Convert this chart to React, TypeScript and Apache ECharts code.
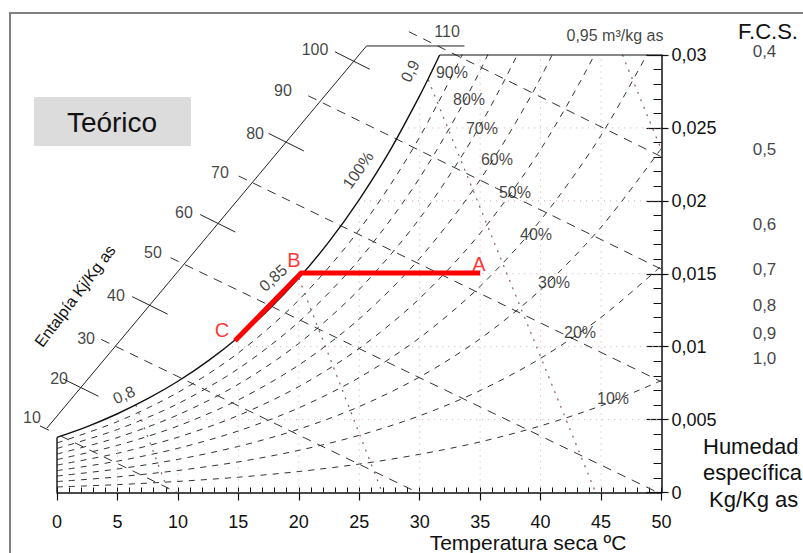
import React, { useEffect, useRef } from "react";
import * as echarts from "echarts";

const FONT = "'Liberation Sans', Arial, Helvetica, sans-serif";

// ---- axes (temperature °C, humidity in g/kg shown as kg/kg) ----
const tempMin = 0;
const tempMax = 50;
const humMax = 30;

// ---- saturation curve (100 %), g/kg ----
const satT = [0, 2.5, 5, 7.5, 10, 12.5, 15, 17.5, 20, 22.5, 25, 27.5, 30, 31, 31.65];
const satW = [3.78, 4.52, 5.4, 6.43, 7.63, 9.03, 10.65, 12.53, 14.7, 17.2, 20.09, 23.39, 27.21, 28.88, 30.0];

// ---- relative humidity curves, g/kg at rhT ----
const rhT = [0, 5, 10, 15, 20, 25, 30, 35, 40, 45, 50];
const rh90 = [3.4, 4.86, 6.86, 9.57, 13.2, 18.02, 24.38, 32.73, 43.66, 57.95, 76.6];
const rh80 = [3.02, 4.32, 6.09, 8.49, 11.7, 15.97, 21.58, 28.93, 38.51, 50.98, 67.2];
const rh70 = [2.64, 3.77, 5.32, 7.42, 10.22, 13.93, 18.8, 25.17, 33.44, 44.15, 58.02];
const rh60 = [2.26, 3.23, 4.56, 6.35, 8.74, 11.9, 16.05, 21.45, 28.44, 37.47, 49.08];
const rh50 = [1.88, 2.69, 3.79, 5.28, 7.26, 9.88, 13.31, 17.77, 23.52, 30.91, 40.37];
const rh40 = [1.5, 2.15, 3.03, 4.22, 5.8, 7.88, 10.61, 14.14, 18.68, 24.49, 31.88];
const rh30 = [1.13, 1.61, 2.27, 3.16, 4.34, 5.89, 7.92, 10.54, 13.9, 18.19, 23.61];
const rh20 = [0.75, 1.07, 1.51, 2.1, 2.89, 3.92, 5.26, 6.99, 9.2, 12.01, 15.54];
const rh10 = [0.38, 0.54, 0.76, 1.05, 1.44, 1.95, 2.62, 3.47, 4.57, 5.95, 7.68];
const rhCurves = [rh90, rh80, rh70, rh60, rh50, rh40, rh30, rh20, rh10];
const rhLabels = ["90%", "80%", "70%", "60%", "50%", "40%", "30%", "20%", "10%"];
const rhLabelT = [32.67, 34.08, 35.15, 36.39, 37.88, 39.62, 41.11, 43.26, 45.99];
const rhLabelW = [28.77, 26.98, 24.99, 22.86, 20.6, 17.72, 14.37, 10.94, 6.48];

// ---- enthalpy (kJ/kg as) ----
const enthScaleT = [-0.83, 25.6, 33.7];
const enthScaleW = [4.42, 30.62, 30.62];
const enthDashed = [10, 30, 50, 70, 90, 110];
const enthStartT = [0.3, 3.65, 9.39, 15.03, 20.79, 29.1];
const enthStartW = [3.88, 10.5, 16.1, 21.7, 27.2, 31.6];
const enthEndT = [9.94, 29.82, 49.7, 50, 50, 50];
const enthEndW = [0, 0, 0, 7.59, 15.31, 23.02];
const enthTicks = [10, 20, 40, 60, 80, 100];
const enthTickT1 = [-1.41, 0.48, 6.22, 11.84, 17.51, 22.99];
const enthTickW1 = [4.57, 7.8, 13.43, 19.06, 24.62, 30.22];
const enthTickT2 = [-0.67, 3.43, 9.15, 14.75, 20.42, 25.87];
const enthTickW2 = [4.27, 6.6, 12.23, 17.86, 23.42, 29.02];
const enthLabels = ["10", "20", "30", "40", "50", "60", "70", "80", "90", "100", "110"];
const enthLabelT = [-2.07, 0.17, 2.4, 4.88, 7.94, 10.5, 13.48, 16.38, 18.69, 21.34, 32.26];
const enthLabelW = [5.11, 7.85, 10.59, 13.54, 16.49, 19.23, 21.91, 24.65, 27.6, 30.41, 31.58];

// ---- specific volume (m3/kg as) ----
const volLevels = ["0,8", "0,85", "0,9", "0,95"];
const volStartT = [6.52, 20.0, 30.71, 46.77];
const volStartW = [6.0, 14.7, 28.3, 30.0];
const volEndT = [9.24, 26.9, 44.55, 50];
const volEndW = [0, 0, 0, 23.48];
const volLabels = ["0,8", "0,85", "0,9", "100%", "0,95 m³/kg as"];
const volLabelT = [5.54, 17.87, 29.2, 24.9, 46.15];
const volLabelW = [6.69, 14.71, 28.9, 22.11, 31.37];
const volLabelRot = [24, 42, 62, 55, 0];

// ---- dotted grid ----
const gridVT = [5, 10, 15, 20, 25, 30, 35, 40, 45];
const gridVTopW = [5.4, 7.63, 10.65, 14.7, 20.09, 27.21, 30, 30, 30];
const gridHW = [5, 10, 15, 20, 25];
const gridHStartT = [3.9, 14.0, 20.3, 24.9, 28.55];

// ---- process C -> B -> A ----
const processT = [14.72, 20.2, 35.0];
const processW = [10.4, 15.05, 15.05];
const processLabels = ["C", "B", "A"];
const processLabelT = [13.65, 19.6, 34.9];
const processLabelW = [11.14, 15.94, 15.67];

// ---- F.C.S. scale ----
const fcsValues = ["0,4", "0,5", "0,6", "0,7", "0,8", "0,9", "1,0"];
const fcsAxisT = 55.75;
const fcsTopW = 30.55;
const fcsW = [29.8, 23.07, 18.14, 15.12, 12.72, 10.73, 9.22];
const fcsSlant = [0.89, 0.69, 0.34, 0.21, 0, 0.07, 0];
const fcsTickLeftT = [55.0, 55.0, 55.2, 55.3, 55.4, 55.4, 55.4];
const fcsTickRightT = [56.66, 56.66, 56.66, 56.66, 56.6, 56.6, 56.5];
const fcsLabelT = 57.5;
const fcsLabelW = [30.21, 23.49, 18.35, 15.26, 12.79, 10.87, 9.16];

const GRID = { left: 57, right: 141.5, top: 55, bottom: 60.5 };

const lineSeries = (data: number[][], lineStyle: any, extra: any = {}) => ({
  type: "line",
  data,
  symbol: "none",
  silent: true,
  clip: false,
  lineStyle,
  ...extra,
});

const labelSeries = (items: any[], fontSize: number, color: string, extra: any = {}) => ({
  type: "scatter",
  symbolSize: 1,
  clip: false,
  silent: true,
  itemStyle: { color: "transparent" },
  z: 10,
  data: items.map((it) => ({
    value: [it[0], it[1]],
    label: { formatter: it[2], rotate: it[3] || 0 },
  })),
  label: {
    show: true,
    position: "inside",
    fontSize,
    fontFamily: FONT,
    color,
    textBorderWidth: 0,
    ...extra,
  },
});

const baseGraphics: any[] = [
  {
    type: "rect",
    shape: { x: 10, y: 13, width: 900, height: 700 },
    style: { fill: "none", stroke: "#808080", lineWidth: 2 },
    silent: true,
  },
  {
    type: "rect",
    shape: { x: 34, y: 97, width: 157, height: 49 },
    style: { fill: "#dcdcdc" },
    silent: true,
  },
  {
    type: "text",
    x: 112,
    y: 122,
    style: { text: "Teórico", font: `28px ${FONT}`, fill: "#111", align: "center", verticalAlign: "middle" },
  },
  {
    type: "text",
    x: 768,
    y: 31,
    style: { text: "F.C.S.", font: `22px ${FONT}`, fill: "#111", align: "center", verticalAlign: "middle" },
  },
  {
    type: "text",
    x: 703,
    y: 446,
    style: { text: "Humedad", font: `22px ${FONT}`, fill: "#111", align: "left", verticalAlign: "middle" },
  },
  {
    type: "text",
    x: 703,
    y: 472,
    style: { text: "específica", font: `22px ${FONT}`, fill: "#111", align: "left", verticalAlign: "middle" },
  },
  {
    type: "text",
    x: 709,
    y: 499,
    style: { text: "Kg/Kg as", font: `22px ${FONT}`, fill: "#111", align: "left", verticalAlign: "middle" },
  },
  {
    type: "text",
    x: 528,
    y: 542.5,
    style: { text: "Temperatura seca ºC", font: `21px ${FONT}`, fill: "#111", align: "center", verticalAlign: "middle" },
  },
  {
    type: "text",
    x: 75,
    y: 296,
    rotation: (53 * Math.PI) / 180,
    style: { text: "Entalpía Kj/Kg as", font: `16px ${FONT}`, fill: "#111", align: "center", verticalAlign: "middle" },
  },
];

function buildOption() {
  const series: any[] = [];
  const gridStyle = { type: [1, 5], color: "#cfaab0", width: 1 };
  gridVT.forEach((t, i) => series.push(lineSeries([[t, 0], [t, gridVTopW[i]]], gridStyle)));
  gridHW.forEach((w, i) => series.push(lineSeries([[gridHStartT[i], w], [tempMax, w]], gridStyle)));

  rhCurves.forEach((c) =>
    series.push(
      lineSeries(
        rhT.map((t, i) => [t, c[i]]),
        { type: [6, 6], color: "#333", width: 1 },
        { clip: true, smooth: 0.3 }
      )
    )
  );

  volLevels.forEach((_, i) =>
    series.push(
      lineSeries(
        [[volStartT[i], volStartW[i]], [volEndT[i], volEndW[i]]],
        { type: [2, 6], color: "#8a5a5e", width: 1.2 }
      )
    )
  );

  enthDashed.forEach((_, i) =>
    series.push(
      lineSeries(
        [[enthStartT[i], enthStartW[i]], [enthEndT[i], enthEndW[i]]],
        { type: [9, 7], color: "#333", width: 1 }
      )
    )
  );
  // ticks that lie fully inside the temperature range (the t < 0 one is drawn as graphic)
  enthTicks.forEach((_, i) => {
    if (enthTickT1[i] < 0) return;
    series.push(
      lineSeries(
        [[enthTickT1[i], enthTickW1[i]], [enthTickT2[i], enthTickW2[i]]],
        { color: "#222", width: 1 }
      )
    );
  });

  series.push(lineSeries(satT.map((t, i) => [t, satW[i]]), { color: "#111", width: 1.4 }, { smooth: 0.3 }));
  series.push(lineSeries([[0, 0], [0, satW[0]]], { color: "#111", width: 1.4 }));
  series.push(lineSeries([[satT[satT.length - 1], humMax], [tempMax, humMax]], { color: "#111", width: 1.2 }));

  // F.C.S. scale
  series.push(lineSeries([[fcsAxisT, fcsTopW], [fcsAxisT, fcsW[fcsW.length - 1]]], { color: "#222", width: 1.3 }));
  fcsW.forEach((w, i) =>
    series.push(
      lineSeries(
        [[fcsTickLeftT[i], w - fcsSlant[i] / 2], [fcsTickRightT[i], w + fcsSlant[i] / 2]],
        { color: "#222", width: 1.2 }
      )
    )
  );

  // process line
  series.push(
    lineSeries(processT.map((t, i) => [t, processW[i]]), { color: "#ff0000", width: 5, cap: "butt", join: "miter" }, { z: 8 })
  );

  // labels
  series.push(labelSeries(rhLabels.map((s, i) => [rhLabelT[i], rhLabelW[i], s]), 16, "#111"));
  series.push(labelSeries(enthLabels.map((s, i) => [enthLabelT[i], enthLabelW[i], s]), 16, "#111"));
  series.push(
    labelSeries(volLabels.map((s, i) => [volLabelT[i], volLabelW[i], s, volLabelRot[i]]), 16, "#111")
  );
  series.push(labelSeries(processLabels.map((s, i) => [processLabelT[i], processLabelW[i], s]), 20, "#ff0000"));
  series.push(
    labelSeries(fcsValues.map((s, i) => [fcsLabelT, fcsLabelW[i], s]), 17, "#111", { position: "right", distance: 0 })
  );

  return {
    animation: false,
    backgroundColor: "#ffffff",
    grid: [
      { ...GRID, containLabel: false },
      { ...GRID, containLabel: false },
    ],
    xAxis: [
      {
        type: "value",
        gridIndex: 0,
        min: tempMin,
        max: tempMax,
        interval: 5,
        position: "bottom",
        axisLine: { show: true, onZero: false, lineStyle: { color: "#111", width: 1.5 } },
        axisTick: { show: true, inside: false, length: 8, lineStyle: { color: "#111", width: 1.2 } },
        axisLabel: { show: true, margin: 20, fontSize: 18, fontFamily: FONT, color: "#111" },
        splitLine: { show: false },
      },
      {
        type: "value",
        gridIndex: 1,
        min: tempMin,
        max: tempMax,
        interval: 1,
        position: "bottom",
        axisLine: { show: false, onZero: false },
        axisTick: { show: true, inside: true, length: 5, lineStyle: { color: "#111", width: 1 } },
        axisLabel: { show: false },
        splitLine: { show: false },
      },
    ],
    yAxis: [
      {
        type: "value",
        gridIndex: 0,
        min: 0,
        max: humMax,
        interval: 5,
        position: "right",
        axisLine: { show: true, onZero: false, lineStyle: { color: "#111", width: 1.5 } },
        axisTick: { show: true, inside: false, length: 7, lineStyle: { color: "#111", width: 1.2 } },
        axisLabel: {
          show: true,
          margin: 10,
          fontSize: 18,
          fontFamily: FONT,
          color: "#111",
          formatter: (v: number) => (v === 0 ? "0" : String(v / 1000).replace(".", ",")),
        },
        splitLine: { show: false },
      },
      {
        type: "value",
        gridIndex: 1,
        min: 0,
        max: humMax,
        interval: 5,
        position: "right",
        axisLine: { show: false, onZero: false },
        axisTick: { show: true, inside: true, length: 15, lineStyle: { color: "#111", width: 1.2 } },
        minorTick: { show: true, splitNumber: 5, length: 8, lineStyle: { color: "#111", width: 1 } },
        axisLabel: { show: false },
        splitLine: { show: false },
      },
    ],
    graphic: baseGraphics,
    series,
  };
}

export default function App() {
  const ref = useRef<HTMLDivElement>(null);
  useEffect(() => {
    if (!ref.current) return;
    const chart = echarts.init(ref.current, null, { renderer: "svg" });
    chart.setOption(buildOption() as any);
    // parts of the enthalpy scale lying left of 0 °C, placed through the chart's own scales
    const px = (t: number, w: number) => chart.convertToPixel({ gridIndex: 0 }, [t, w]) as number[];
    const extra: any[] = [
      {
        type: "polyline",
        silent: true,
        shape: { points: enthScaleT.map((t, i) => px(t, enthScaleW[i])) },
        style: { stroke: "#222", lineWidth: 1, fill: null },
      },
    ];
    enthTicks.forEach((_, i) => {
      if (enthTickT1[i] >= 0) return;
      const a = px(enthTickT1[i], enthTickW1[i]);
      const b = px(enthTickT2[i], enthTickW2[i]);
      extra.push({
        type: "line",
        silent: true,
        shape: { x1: a[0], y1: a[1], x2: b[0], y2: b[1] },
        style: { stroke: "#222", lineWidth: 1 },
      });
    });
    chart.setOption({ graphic: [...baseGraphics, ...extra] } as any);
    return () => chart.dispose();
  }, []);
  return (
    <div
      ref={ref}
      style={{ position: "fixed", left: 0, top: 0, width: 803, height: 553, background: "#fff" }}
    />
  );
}
